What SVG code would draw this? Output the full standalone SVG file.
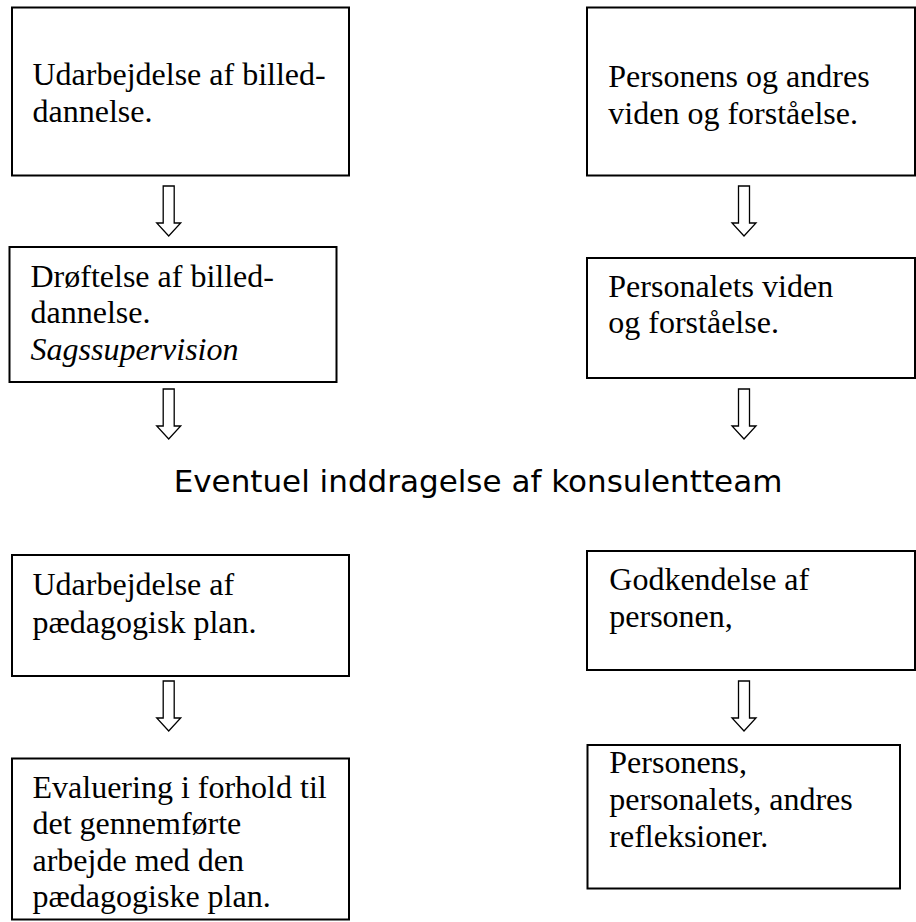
<svg xmlns="http://www.w3.org/2000/svg" width="916" height="922" viewBox="0 0 916 922">
<style>
.box{fill:#fff;stroke:#000;stroke-width:2}
.t{font-family:"Liberation Serif","Times New Roman",serif;font-size:32px;fill:#000}
.i{font-style:italic}
.mid{font-family:"DejaVu Sans",Verdana,sans-serif;font-size:31px;fill:#000}
.arr{fill:#fff;stroke:#000;stroke-width:1.3;stroke-linejoin:miter}
</style>
<defs>
<path id="darrow" d="M-5.5,0 H5.5 V37 H12 L0,50 L-12,37 H-5.5 Z"/>
</defs>
<rect width="916" height="922" fill="#fff"/>
<g id="connectors">
<use href="#darrow" class="arr" x="168.7" y="186"/>
<use href="#darrow" class="arr" x="744" y="186"/>
<use href="#darrow" class="arr" x="168.7" y="389"/>
<use href="#darrow" class="arr" x="744" y="389"/>
<use href="#darrow" class="arr" x="168.7" y="681"/>
<use href="#darrow" class="arr" x="744" y="681"/>
</g>
<g id="n1">
<rect class="box" x="12" y="7.5" width="337" height="168"/>
<text class="t" x="32.5" y="85">Udarbejdelse af billed-</text>
<text class="t" x="32.5" y="121.7">dannelse.</text>
</g>
<g id="n2">
<rect class="box" x="9.5" y="247" width="327" height="135"/>
<text class="t" x="30.5" y="286.7">Drøftelse af billed-</text>
<text class="t" x="30.5" y="323.3">dannelse.</text>
<text class="t i" x="30.5" y="360">Sagssupervision</text>
</g>
<g id="n3">
<rect class="box" x="587" y="7.5" width="328" height="168"/>
<text class="t" x="608.3" y="87.3">Personens og andres</text>
<text class="t" x="608.3" y="124">viden og forståelse.</text>
</g>
<g id="n4">
<rect class="box" x="587" y="258" width="328" height="120"/>
<text class="t" x="608.3" y="296.7">Personalets viden</text>
<text class="t" x="608.3" y="333.3">og forståelse.</text>
</g>
<g id="n5">
<text class="mid" x="478" y="492" text-anchor="middle">Eventuel inddragelse af konsulentteam</text>
</g>
<g id="n6">
<rect class="box" x="12" y="555" width="337" height="121"/>
<text class="t" x="32.5" y="595">Udarbejdelse af</text>
<text class="t" x="32.5" y="633.3">pædagogisk plan.</text>
</g>
<g id="n7">
<rect class="box" x="12" y="758.5" width="337" height="161"/>
<text class="t" x="32.5" y="797.5">Evaluering i forhold til</text>
<text class="t" x="32.5" y="834">det gennemførte</text>
<text class="t" x="32.5" y="870.7">arbejde med den</text>
<text class="t" x="32.5" y="907.4">pædagogiske plan.</text>
</g>
<g id="n8">
<rect class="box" x="587" y="551" width="328" height="119"/>
<text class="t" x="609.3" y="590">Godkendelse af</text>
<text class="t" x="609.3" y="627.3">personen,</text>
</g>
<g id="n9">
<rect class="box" x="587.5" y="745" width="312.5" height="143.5"/>
<text class="t" x="609.3" y="773.3">Personens,</text>
<text class="t" x="609.3" y="810">personalets, andres</text>
<text class="t" x="609.3" y="846.7">refleksioner.</text>
</g>
</svg>
